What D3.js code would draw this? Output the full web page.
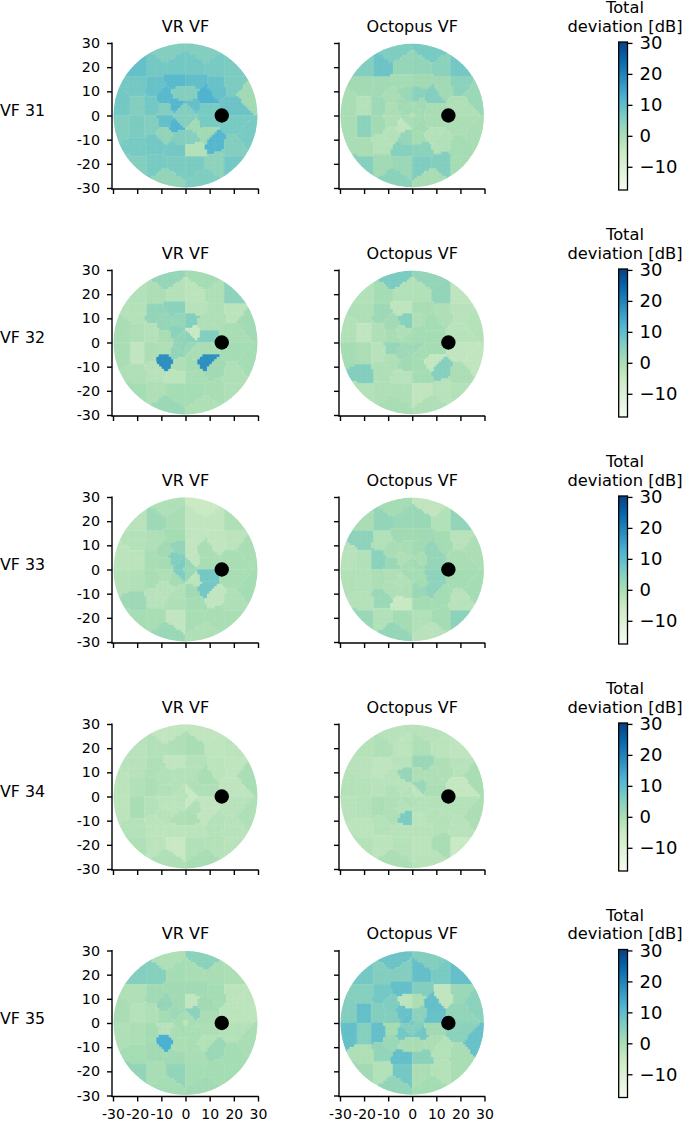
<!DOCTYPE html>
<html><head><meta charset="utf-8">
<script src="https://cdnjs.cloudflare.com/ajax/libs/d3/7.8.5/d3.min.js"></script>
<style>html,body{margin:0;padding:0;background:#fff}svg{display:block}text{font-family:"DejaVu Sans",sans-serif;fill:#000}</style>
</head><body><div id="c"></div>
<script>
// Test-point locations (59), listed row by row from the top of the field to the bottom
const pointX = [-8,8,
 -20,-12.5,-4,4,12.5,20,
 -20,-12.5,-4,4,13,20,
 -26,-8.5,-2.5,2.5,8,26,
 -20,-14,-8,-4,-1.2,1.2,4,8,20,
 0,
 -20,-14,-8,-4,-1.2,1.2,4,8,20,
 -26,-8.5,-2.5,2.5,8.5,26,
 -20,-12.5,-4,4,12,20,
 -20,-12.5,-4,4,12.5,20,
 -8,8];
const pointY = [26,26,
 20,20,20,20,20,20,
 13,12,14.3,14.3,11.7,13,
 4,8,9,9,8,8.5,
 4,4,2.5,4,1.2,1.2,4,2.5,3.5,
 0,
 -4,-4,-2.5,-4,-1.2,-1.2,-4,-2.5,-3.5,
 -4,-8,-9,-9,-8,-8.5,
 -13,-12,-14.3,-14.3,-11,-13,
 -20,-20,-20,-20,-20,-20,
 -26,-26];

const rowLabels = ["VF 31","VF 32","VF 33","VF 34","VF 35"];
const columnTitles = ["VR VF","Octopus VF"];
const blindSpot = [15,0];
const axisTicks = [-30,-20,-10,0,10,20,30];
const colorbarTicks = [30,20,10,0,-10];
const colorDomain = [-17.5,30.3];
const gnbuStops = ["#f7fcf0","#e0f3db","#ccebc5","#a8ddb5","#7bccc4","#4eb3d3","#2b8cbe","#0868ac","#084081"];

const vr31 = [5,5,
 9,7,7,7,6.5,6,
 7,8.5,10.5,9.5,8.5,6,
 7,10.5,5,5,12,1,
 5,7,5,11,5,5,9,6.5,8,
 5,
 6,5,9,11.5,5,5,1,6.5,6.5,
 5,3,5,4.5,1,6.5,
 6.5,7,7,-1.5,11,5,
 5,6.5,6,6,3.5,7,
 3,5.5];
const oct31 = [5.5,6.5,
 5,8,2.5,3,4,7,
 1,1,0.5,1,1,4,
 0,0,2,4,5,2,
 -2,1.5,-0.5,1,1,0.5,1,0,-1,
 -2,
 4,1,-1,-4,0,0.5,1,0,-0.5,
 0,-2,2.5,0.5,-2,0,
 0,-2,4.5,4,-1.5,0.5,
 4.5,1,2,5.5,5,0.5,
 4,0];
const vr32 = [2.5,0.5,
 -1.5,-0.5,-2,-3,-1,3.5,
 -2,3,4,-2.5,-1,-3,
 0,2.5,2.5,5,-1,1,
 -1,-2,0,4,3,4,-5,5,0,
 4,
 -4,-0.5,-1,3,3,2,0,0,0.5,
 0,17.5,-1,0.5,17.5,0.5,
 -1,-2.5,-3,0,1,-1,
 0.5,-1,0.5,0.5,0,-1,
 2,-1];
const oct32 = [6,2.5,
 -1.5,0.5,-1.5,-1.5,3,-3.5,
 -1,1.5,-3.5,0,-1,-2.5,
 -1.5,1,4.5,-1,0.5,-2,
 -4,-1,0,-1,0,0.5,0.5,0.5,-2.5,
 0.5,
 -0.5,-2.5,2.5,1.5,1.5,1.5,0.5,0.5,-4,
 0.5,-1,1,0.5,-4.5,-4,
 5,-1,-2.5,0.5,4.5,-0.5,
 -1.5,-1,-1,-4,-2.5,-1.5,
 0,-1];
const vr33 = [-1,-5.5,
 -2.5,1.5,0,-4,-4,-1,
 -2,-1,0.5,-4,-4,-3,
 -3,1,3,-4,0,0,
 -3,0,0.5,5,6,2,-4,0,0,
 2,
 -1.5,0,-1,0.5,5.5,2,-3,7,0,
 -2,-2.5,-1.5,1,7,0.5,
 1.5,-2.5,-1,0.5,-4,-1,
 0.5,0,-4,0,0,0,
 2,-1];
const oct33 = [0.5,-4,
 0,3,2,2,-1.5,3,
 3.5,-1.5,1,1,0.5,-2.5,
 -2.5,0,0,1,2.5,-0.5,
 -1.5,4,2,-1,0.5,1,0,2.5,0,
 0,
 -1.5,-0.5,-1,-1.5,0.5,0.5,0.5,3.5,0.5,
 -1.5,-1,-1,2,3.5,0.5,
 -2,2,-5,0.5,0.5,-2.5,
 2,-1.5,0.5,-1.5,0.5,4,
 2.5,-2.5];
const vr34 = [-4,-4,
 -2.5,-1.5,-1,0,-3.5,-3,
 -2.5,-1,-4,-2,-3,-3.5,
 -3,-1.5,-2,-1.5,0,0,
 -1.5,-0.5,-1.5,-2,-2.5,-5,-1,-1,-3.5,
 -2,
 0,-2,-3,-3,-2.5,-5,-1,-4,-2.5,
 -3,-2.5,-1,-0.5,-4,-1,
 -2,-3,-3,-3,-2,-2.5,
 -1,-3,-5,-1.5,-2,-2.5,
 -1,0];
const oct34 = [-2.5,-2.5,
 -2,-1,-3,-1,-3,-3.5,
 -2.5,-3.5,-2.5,2,-1,-2.5,
 -2,-2.5,2.5,-1,-1,0,
 -2,-2.5,-1.5,-2.5,-2,-4,2,-0.5,-4.5,
 -2,
 -2,-0.5,-1,-2,-1,-1.5,-2,-2,-2,
 -2.5,-1,6,-3,-2,-0.5,
 -3,-2,-2.5,-2.5,-2,-2.5,
 -2,-3,-2,-3,0,-5,
 -0.5,-2.5];
const vr35 = [-1,4,
 5,4.5,0.5,0,0,-0.5,
 -1,1,1,1,0.5,-3,
 0,2.5,1,-4,1,-3,
 -2,-1,0.5,1.5,0.5,0,4,0,-3,
 -3,
 -0.5,0.5,-2.5,0,0.5,0,0,-0.5,-2,
 -1,12.5,-0.5,0,-2,0,
 0.5,1,1,0,2,0.5,
 3,0,3,0.5,0.5,0.5,
 0.5,1];
const oct35 = [8,5,
 7,5,5,9,6.5,9,
 4.5,7,9,5,-4,2,
 5,5.5,-3,-0.5,9,4,
 9,5,5,8.5,9,4,4,8.5,3,
 6.5,
 4.5,9,0.5,7,5,5,7,1,4,
 9,2,0,0,-0.5,8.5,
 -1,3,9,4,-2,0,
 1,-1.5,7,-0.5,-2,0,
 3,0.5];
const panelValues = [[vr31,oct31],[vr32,oct32],[vr33,oct33],[vr34,oct34],[vr35,oct35]];

const W=683,H=1121;
const svg=d3.select("#c").append("svg").attr("width",W).attr("height",H);
const rowTops=[43,270,497,724,950.5];
const plotH=145;
const colX=[[113,258],[340,484.5]];
const color=d3.scaleLinear().domain(gnbuStops.map((_,i)=>colorDomain[0]+(colorDomain[1]-colorDomain[0])*i/8)).range(gnbuStops);
const pts=pointX.map((x,i)=>[x,pointY[i]]);
const delaunay=d3.Delaunay.from(pts);

// nearest-neighbour field sampled on a 1-degree grid: one list of grid squares per test point
const gridDeg=d3.range(-30,30);
const cellSquares=pts.map(()=>[]);
gridDeg.forEach(gx=>gridDeg.forEach(gy=>{
 cellSquares[delaunay.find(gx+0.5,gy+0.5)].push([gx,gy]);
}));

const defs=svg.append("defs");
const grad=defs.append("linearGradient").attr("id","cbar").attr("x1",0).attr("x2",0).attr("y1",1).attr("y2",0);
gnbuStops.forEach((c,i)=>grad.append("stop").attr("offset",i/8).attr("stop-color",c));

const ax=(g,axis,fs)=>{g.call(axis);
 g.select(".domain").attr("stroke","#000").attr("stroke-width",1.4);
 g.selectAll(".tick line").attr("stroke","#000").attr("stroke-width",1.4);
 g.selectAll("text").style("font-family",'"DejaVu Sans"').style("font-size",fs+"px").attr("fill","#000");};

rowLabels.forEach((lab,r)=>{
 const top=rowTops[r];
 const y=d3.scaleLinear().domain([-30,30]).range([top+plotH,top]);
 svg.append("text").attr("x",0).attr("y",top+73).style("font-size","15.8px").text(lab);
 columnTitles.forEach((title,c)=>{
  const x=d3.scaleLinear().domain([-30,30]).range(colX[c]);
  const vals=panelValues[r][c];
  const cid=`clip${r}${c}`;
  defs.append("clipPath").attr("id",cid).append("circle").attr("cx",x(0)).attr("cy",y(0)).attr("r",x(30)-x(0)-0.6);
  const g=svg.append("g").attr("clip-path",`url(#${cid})`);
  g.selectAll("path").data(pts).join("path")
   .attr("d",(d,i)=>cellSquares[i].map(([gx,gy])=>{
      const x0=x(gx),x1=x(gx+1),y0=y(gy),y1=y(gy+1);
      return `M${x0},${y0}L${x1},${y0}L${x1},${y1}L${x0},${y1}Z`;}).join(""))
   .attr("fill",(d,i)=>color(vals[i])).attr("stroke",(d,i)=>color(vals[i])).attr("stroke-width",0.4);
  svg.append("circle").attr("cx",x(blindSpot[0])).attr("cy",y(blindSpot[1])).attr("r",7.2).attr("fill","#000");
  const yAxis=d3.axisLeft(y).tickValues(axisTicks).tickSize(5).tickPadding(7).tickFormat(d=>c===0?String(d):"");
  const yg=svg.append("g").attr("transform",`translate(${colX[c][0]-1},0)`);ax(yg,yAxis,14.3);
  yg.select(".domain").attr("d",`M0,${top-0.5}V${top+plotH+1.5}`);
  const xAxis=d3.axisBottom(x).tickValues(axisTicks).tickSize(5).tickPadding(7.5).tickFormat(d=>r===4?String(d):"");
  const xg=svg.append("g").attr("transform",`translate(0,${top+plotH+1})`);ax(xg,xAxis,14);
  xg.select(".domain").attr("d",`M${colX[c][0]-1.5},0H${colX[c][1]+0.7}`);
  svg.append("text").attr("x",x(0)).attr("y",top-11.5).attr("text-anchor","middle").style("font-size","16px").text(title);
 });
 // colour bar
 const cy=d3.scaleLinear().domain(colorDomain).range([top+147,top-1]);
 svg.append("rect").attr("x",618.7).attr("y",cy(colorDomain[1])).attr("width",8.8).attr("height",cy(colorDomain[0])-cy(colorDomain[1])).attr("fill","url(#cbar)").attr("stroke","#000").attr("stroke-width",1.3);
 const cAxis=d3.axisRight(cy).tickValues(colorbarTicks).tickSize(5).tickPadding(7).tickFormat(d=>d<0?"\u2212"+Math.abs(d):String(d));
 const cg=svg.append("g").attr("transform","translate(627.5,0)");cg.call(cAxis);
 cg.select(".domain").remove();
 cg.selectAll(".tick line").attr("stroke","#000").attr("stroke-width",1.3);
 cg.selectAll("text").style("font-family",'"DejaVu Sans"').style("font-size","18px").attr("fill","#000");
 svg.append("text").attr("x",625).attr("y",top-11.5).attr("text-anchor","middle").style("font-size","16.3px").text("deviation [dB]");
 svg.append("text").attr("x",625).attr("y",top-30).attr("text-anchor","middle").style("font-size","16.3px").text("Total");
});
</script></body></html>
